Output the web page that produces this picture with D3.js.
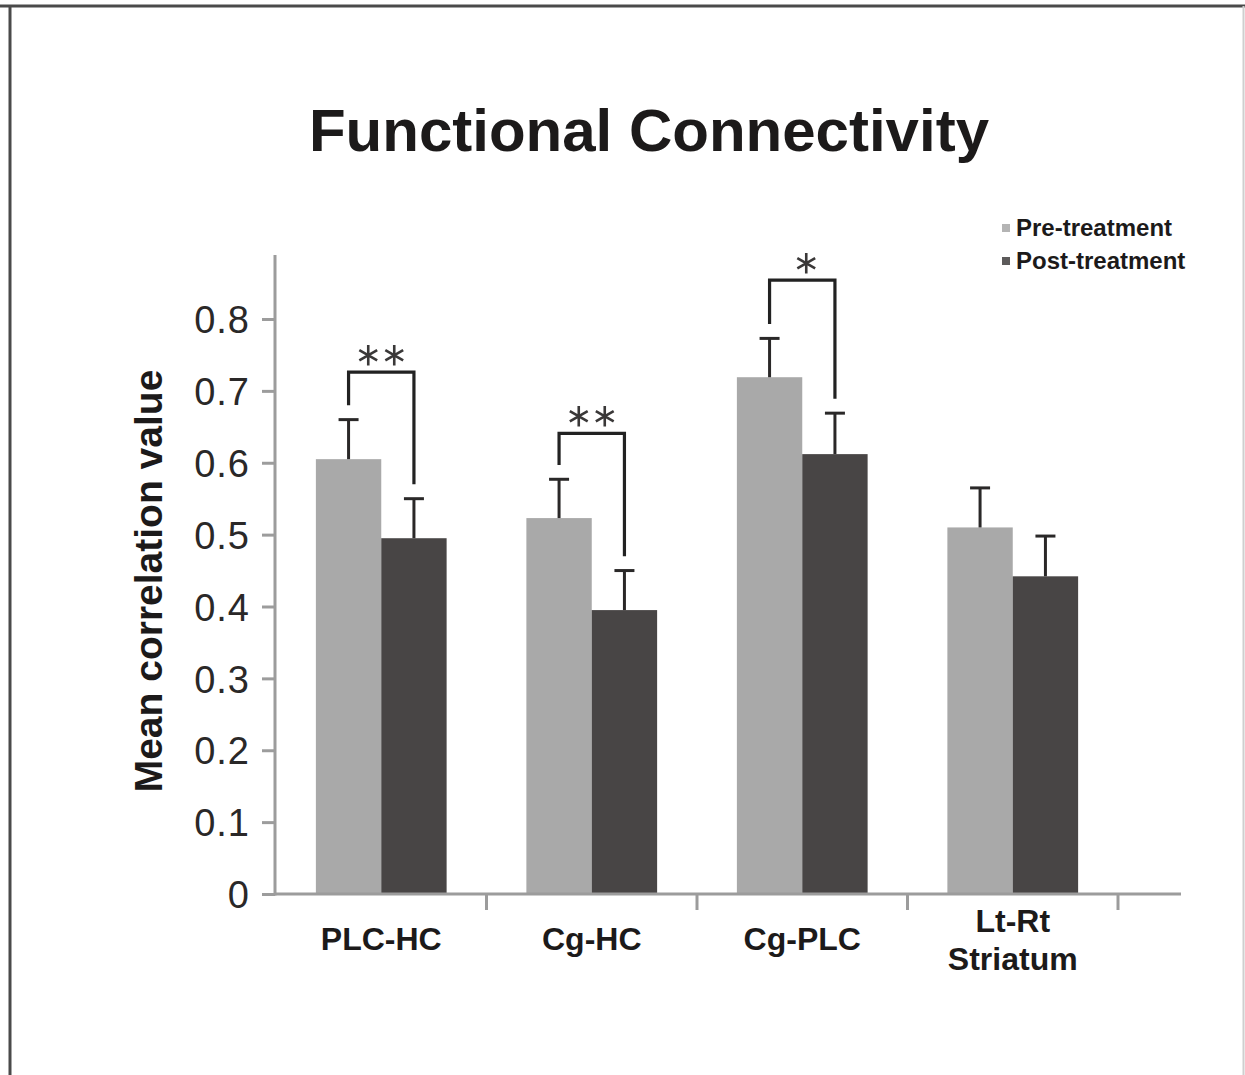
<!DOCTYPE html>
<html>
<head>
<meta charset="utf-8">
<script src="https://cdn.jsdelivr.net/npm/d3@7"></script>
<style>
  body { margin: 0; background: #fff; }
  svg { display: block; font-family: "Liberation Sans", Arial, Helvetica, sans-serif; }
</style>
</head>
<body>
<svg id="chart" width="1245" height="1075"></svg>
<script>
// values (mean correlation, SEM)
const categories = ["PLC-HC", "Cg-HC", "Cg-PLC", "Lt-Rt\nStriatum"];
const series = ["Pre-treatment", "Post-treatment"];
const preMean = [0.605, 0.523, 0.719, 0.510];
const postMean = [0.495, 0.395, 0.612, 0.442];
const preErr = [0.055, 0.054, 0.054, 0.055];
const postErr = [0.055, 0.055, 0.057, 0.056];
const yTicks = [0, 0.1, 0.2, 0.3, 0.4, 0.5, 0.6, 0.7, 0.8];
// significance brackets: category index, stars, bracket height
const sigCat = [0, 1, 2];
const sigStars = [2, 2, 1];
const sigTop = [0.726, 0.641, 0.854];

const colors = { "Pre-treatment": "#a9a9a9", "Post-treatment": "#484545" };
const legendColors = { "Pre-treatment": "#b4b4b4", "Post-treatment": "#5c5a5a" };

const svg = d3.select("#chart");
const W = 1245, H = 1075;

// frame of the original picture
svg.append("line").attr("x1", 0).attr("x2", W).attr("y1", 6).attr("y2", 6)
  .attr("stroke", "#4a4a4a").attr("stroke-width", 3);
svg.append("line").attr("x1", 10).attr("x2", 10).attr("y1", 5).attr("y2", H)
  .attr("stroke", "#4a4a4a").attr("stroke-width", 3);
svg.append("line").attr("x1", 1243.5).attr("x2", 1243.5).attr("y1", 6).attr("y2", H)
  .attr("stroke", "#cfcfcf").attr("stroke-width", 2);

const x0 = d3.scaleBand().domain(categories).range([276, 1118]).paddingInner(0).paddingOuter(0);
const x1 = d3.scaleBand().domain(series).range([0, x0.bandwidth()]).paddingInner(0).paddingOuter(0.61);
const y = d3.scaleLinear().domain([0, 0.8]).range([894, 319]);

svg.append("text")
  .attr("x", 649).attr("y", 151)
  .attr("text-anchor", "middle")
  .attr("font-size", 60).attr("font-weight", "bold").attr("fill", "#1c1a1a")
  .text("Functional Connectivity");

// y axis
const yAxis = svg.append("g").attr("transform", "translate(275,0)")
  .call(d3.axisLeft(y).tickValues(yTicks).tickSize(13).tickPadding(12)
    .tickFormat(d => d === 0 ? "0" : d3.format(".1f")(d)));
yAxis.select(".domain").remove();
yAxis.selectAll(".tick line").attr("stroke", "#9c9c9c").attr("stroke-width", 3);
yAxis.selectAll(".tick text").attr("font-size", 38).attr("fill", "#2a2828")
  .attr("dy", "0.36em").attr("letter-spacing", 1)
  .attr("font-family", "\"Liberation Sans\", Arial, sans-serif");
svg.append("line").attr("x1", 275).attr("x2", 275).attr("y1", y(0.889)).attr("y2", y(0) + 1.5)
  .attr("stroke", "#9c9c9c").attr("stroke-width", 3);

svg.append("text")
  .attr("transform", `translate(162,581) rotate(-90)`)
  .attr("text-anchor", "middle")
  .attr("font-size", 39).attr("font-weight", "bold").attr("fill", "#1c1a1a")
  .text("Mean correlation value");

// bars
const rows = categories.map((c, i) => ({
  cat: c,
  vals: [
    { s: series[0], v: preMean[i], e: preErr[i] },
    { s: series[1], v: postMean[i], e: postErr[i] }
  ]
}));

const groups = svg.selectAll("g.cat").data(rows).join("g")
  .attr("class", "cat")
  .attr("transform", d => `translate(${x0(d.cat)},0)`);

groups.selectAll("rect").data(d => d.vals).join("rect")
  .attr("x", d => x1(d.s))
  .attr("y", d => y(d.v))
  .attr("width", x1.bandwidth())
  .attr("height", d => y(0) - y(d.v))
  .attr("fill", d => colors[d.s]);

// error bars (upper only)
const errG = groups.selectAll("g.err").data(d => d.vals).join("g")
  .attr("class", "err")
  .attr("transform", d => `translate(${x1(d.s) + x1.bandwidth() / 2},0)`);
errG.append("line")
  .attr("x1", 0).attr("x2", 0)
  .attr("y1", d => y(d.v)).attr("y2", d => y(d.v + d.e))
  .attr("stroke", "#2a2828").attr("stroke-width", 3);
errG.append("line")
  .attr("x1", -10).attr("x2", 10)
  .attr("y1", d => y(d.v + d.e)).attr("y2", d => y(d.v + d.e))
  .attr("stroke", "#2a2828").attr("stroke-width", 3);

// x axis
svg.append("line").attr("x1", 275).attr("x2", 1181).attr("y1", 894).attr("y2", 894)
  .attr("stroke", "#9c9c9c").attr("stroke-width", 3);
const bounds = categories.map(c => x0(c) + x0.bandwidth());
svg.selectAll("line.xtick").data(bounds).join("line")
  .attr("class", "xtick")
  .attr("x1", d => d).attr("x2", d => d)
  .attr("y1", 894).attr("y2", 910)
  .attr("stroke", "#9c9c9c").attr("stroke-width", 3);

svg.selectAll("text.xlab").data(categories).join("text")
  .attr("class", "xlab")
  .attr("x", d => x0(d) + x0.bandwidth() / 2)
  .attr("y", d => d.includes("\n") ? 932 : 950)
  .attr("text-anchor", "middle")
  .attr("font-size", 32).attr("font-weight", "bold").attr("fill", "#1c1a1a")
  .each(function (d) {
    const parts = d.split("\n");
    d3.select(this).selectAll("tspan").data(parts).join("tspan")
      .attr("x", x0(d) + x0.bandwidth() / 2)
      .attr("dy", (p, i) => i === 0 ? 0 : 38)
      .text(p => p);
  });

// significance brackets
const gap = 0.02;
sigCat.forEach((ci, k) => {
  const cat = categories[ci];
  const xl = x0(cat) + x1(series[0]) + x1.bandwidth() / 2;
  const xr = x0(cat) + x1(series[1]) + x1.bandwidth() / 2;
  const yl = y(preMean[ci] + preErr[ci] + gap);
  const yr = y(postMean[ci] + postErr[ci] + gap);
  const yt = y(sigTop[k]);
  svg.append("path")
    .attr("d", `M${xl},${yl}V${yt}H${xr}V${yr}`)
    .attr("fill", "none").attr("stroke", "#222").attr("stroke-width", 3.2)
    .attr("stroke-linejoin", "miter");
  const n = sigStars[k];
  const cx = (xl + xr) / 2 + (n === 1 ? 4 : 0);
  const star = d3.symbol().type(d3.symbolAsterisk).size(300);
  d3.range(n).forEach(j => {
    svg.append("path")
      .attr("d", star)
      .attr("transform", `translate(${cx + (j - (n - 1) / 2) * 26},${yt - 17})`)
      .attr("fill", "none").attr("stroke", "#3a3838").attr("stroke-width", 2.6);
  });
});

// legend
const leg = svg.selectAll("g.leg").data(series).join("g")
  .attr("class", "leg")
  .attr("transform", (d, i) => `translate(1002,${228 + i * 33})`);
leg.append("rect").attr("x", 0).attr("y", -4).attr("width", 8).attr("height", 8)
  .attr("fill", d => legendColors[d]);
leg.append("text").attr("x", 14).attr("y", 8)
  .attr("font-size", 24).attr("font-weight", "bold").attr("fill", "#1c1a1a")
  .text(d => d);
</script>
</body>
</html>
